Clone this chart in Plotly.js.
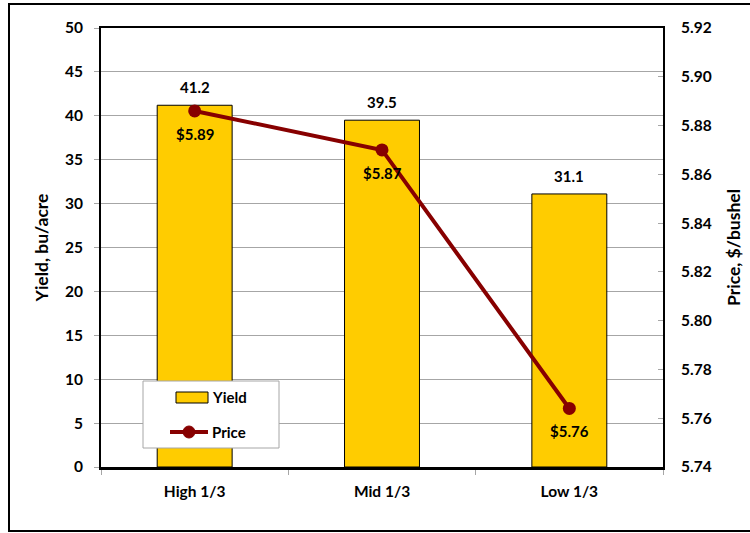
<!DOCTYPE html>
<html>
<head>
<meta charset="utf-8">
<script src="https://cdn.plot.ly/plotly-3.0.1.min.js"></script>
<style>
  html, body { margin: 0; padding: 0; background: #fff; }
  #chart { width: 750px; height: 533px; }
</style>
</head>
<body>
<div id="chart"></div>
<script>
// Yield and price by yield tercile
const categories = ['High 1/3', 'Mid 1/3', 'Low 1/3'];
const yieldValues = [41.2, 39.5, 31.1];     // bu/acre
const priceValues = [5.886, 5.870, 5.764];  // $/bushel
const seriesNames = ['Yield', 'Price'];

const FONT = 'Lato, "Open Sans", "DejaVu Sans", sans-serif';
const BAR_COLOR = '#FFCC00';
const LINE_COLOR = '#870000';
const GRID = '#a6a6a6';
const font = (size, family) => ({ family: family || FONT, size: size, color: '#000', weight: 'bold' });

// plot-area geometry (pixels)
const W = 750, H = 533, M = { l: 101, r: 87, t: 28, b: 66 };
const PW = W - M.l - M.r, PH = H - M.t - M.b;
const px = x => (x - M.l) / PW;          // pixel x -> paper x
const py = y => (H - M.b - y) / PH;      // pixel y -> paper y

const yieldTrace = {
  type: 'bar',
  name: seriesNames[0],
  x: categories,
  y: yieldValues,
  width: 0.4,
  marker: { color: BAR_COLOR, line: { color: '#000', width: 1 } },
  hoverinfo: 'skip'
};

const priceTrace = {
  type: 'scatter',
  name: seriesNames[1],
  x: categories,
  y: priceValues,
  yaxis: 'y2',
  mode: 'lines+markers',
  line: { color: LINE_COLOR, width: 4 },
  marker: { color: LINE_COLOR, size: 13 },
  hoverinfo: 'skip'
};

// value labels: yield above each bar, price below each point
const barLabels = categories.map((c, i) => ({
  x: c, y: yieldValues[i], xref: 'x', yref: 'y',
  text: yieldValues[i].toFixed(1),
  showarrow: false, yanchor: 'middle', yshift: 18,
  font: font(15)
}));
const priceLabels = categories.map((c, i) => ({
  x: c, y: priceValues[i], xref: 'x', yref: 'y2',
  text: '$' + priceValues[i].toFixed(2),
  showarrow: false, yanchor: 'middle', yshift: -23,
  font: font(15)
}));

// legend box drawn by hand so the swatches match the series styling
const legendShapes = [
  { type: 'rect', xref: 'paper', yref: 'paper', layer: 'above',
    x0: px(143), x1: px(279), y0: py(448), y1: py(381),
    fillcolor: '#fff', line: { color: GRID, width: 1 } },
  { type: 'rect', xref: 'paper', yref: 'paper', layer: 'above',
    x0: px(176), x1: px(208), y0: py(403), y1: py(392),
    fillcolor: BAR_COLOR, line: { color: '#000', width: 1 } },
  { type: 'line', xref: 'paper', yref: 'paper', layer: 'above',
    x0: px(170), x1: px(208), y0: py(432), y1: py(432),
    line: { color: LINE_COLOR, width: 4 } },
  { type: 'circle', xref: 'paper', yref: 'paper', layer: 'above',
    x0: px(183), x1: px(195), y0: py(438), y1: py(426),
    fillcolor: LINE_COLOR, line: { color: LINE_COLOR, width: 1 } }
];
const legendTexts = [
  { xref: 'paper', yref: 'paper', x: px(210), y: py(397), text: seriesNames[0],
    xanchor: 'left', yanchor: 'middle', showarrow: false, font: font(15) },
  { xref: 'paper', yref: 'paper', x: px(210), y: py(432), text: seriesNames[1],
    xanchor: 'left', yanchor: 'middle', showarrow: false, font: font(15) }
];

const layout = {
  width: W, height: H,
  margin: M,
  paper_bgcolor: '#fff', plot_bgcolor: '#fff',
  font: font(15),
  showlegend: false,
  xaxis: {
    type: 'category',
    showgrid: false,
    showline: true, linecolor: '#000', linewidth: 2.5, mirror: true,
    ticks: 'outside', tickson: 'boundaries', ticklen: 5, tickcolor: GRID,
    ticklabelstandoff: 9,
    tickfont: font(15.5)
  },
  yaxis: {
    range: [0, 50], dtick: 5, tick0: 0,
    showgrid: true, gridcolor: GRID, gridwidth: 1,
    showline: true, linecolor: '#000', linewidth: 2,
    ticks: 'outside', ticklen: 5, tickcolor: GRID,
    ticklabelstandoff: 8,
    zeroline: false,
    tickfont: font(15.5),
    title: { text: 'Yield, bu/acre', font: font(17.5), standoff: 12 }
  },
  yaxis2: {
    overlaying: 'y', side: 'right',
    range: [5.74, 5.92], dtick: 0.02, tick0: 5.74, tickformat: '.2f',
    showgrid: false, zeroline: false,
    showline: true, linecolor: '#000', linewidth: 2,
    ticks: 'inside', ticklen: 5, tickcolor: GRID,
    ticklabelstandoff: 13,
    tickfont: font(15.5),
    title: { text: 'Price, $/bushel', font: font(17.5), standoff: 17 }
  },
  annotations: barLabels.concat(priceLabels, legendTexts),
  shapes: [{
    type: 'rect', xref: 'paper', yref: 'paper',
    x0: px(9), x1: px(751), y0: py(531), y1: py(4),
    line: { color: '#000', width: 2 }, fillcolor: 'rgba(0,0,0,0)'
  }].concat(legendShapes)
};

Plotly.newPlot('chart', [yieldTrace, priceTrace], layout, { staticPlot: true, displayModeBar: false });
</script>
</body>
</html>
